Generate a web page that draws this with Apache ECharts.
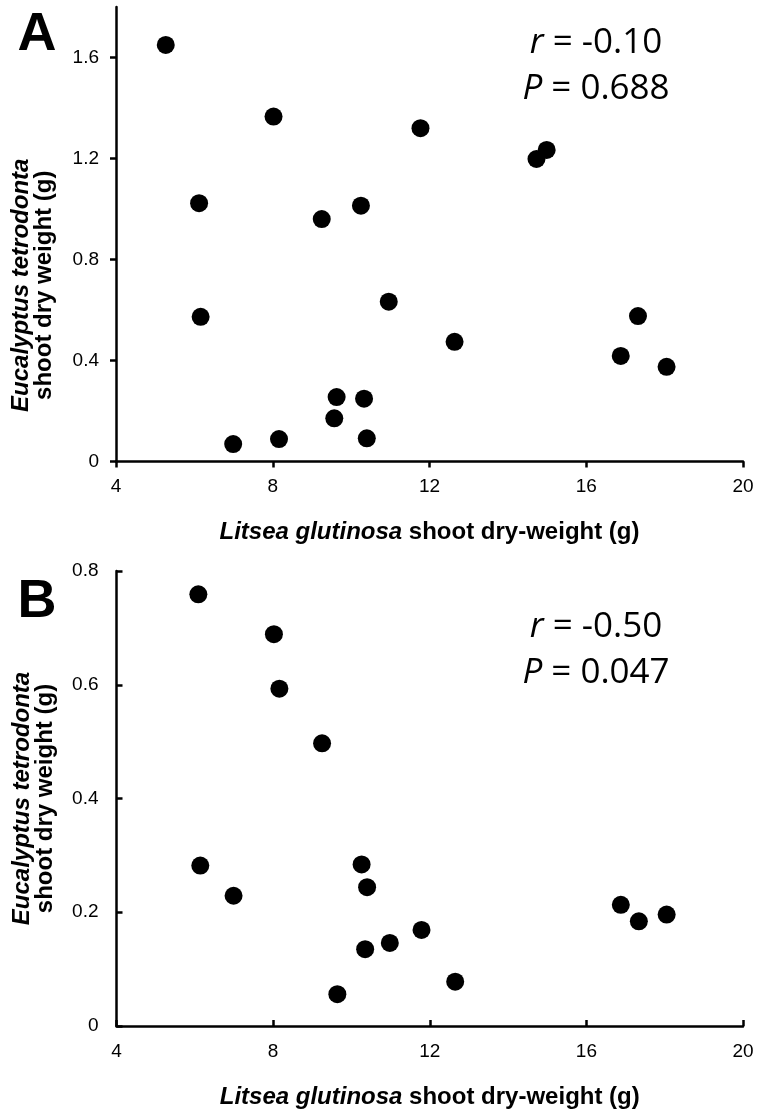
<!DOCTYPE html>
<html><head><meta charset="utf-8">
<script src="https://cdn.jsdelivr.net/npm/echarts@6/dist/echarts.min.js"></script>
<style>html,body{margin:0;padding:0;background:#fff}#c{width:761px;height:1117px}</style>
</head><body><div id="c"></div>
<script>
// Panel A data
const litseaA = [5.27, 6.12, 8.02, 11.77, 9.25, 10.25, 6.16, 10.96, 6.99, 8.16, 9.63, 10.33, 9.57, 10.40, 14.99, 14.73, 12.64, 17.32, 16.88, 18.05];
const eucA    = [1.650, 1.023, 1.366, 1.320, 0.960, 1.013, 0.573, 0.633, 0.069, 0.089, 0.255, 0.249, 0.171, 0.092, 1.234, 1.198, 0.474, 0.576, 0.418, 0.375];
// Panel B data
const litseaB = [6.09, 8.02, 8.16, 9.25, 6.14, 6.99, 10.26, 10.40, 16.88, 17.34, 18.05, 11.79, 10.98, 10.35, 9.64, 12.65];
const eucB    = [0.759, 0.689, 0.593, 0.497, 0.282, 0.229, 0.284, 0.244, 0.213, 0.184, 0.196, 0.169, 0.146, 0.135, 0.056, 0.078];
// Tick labels
const xTicks  = [4, 8, 12, 16, 20];
const yTicksA = [0, 0.4, 0.8, 1.2, 1.6];
const yTicksB = [0, 0.2, 0.4, 0.6, 0.8];
// Statistics text
const statsA = { r: '-0.10', P: '0.688' };
const statsB = { r: '-0.50', P: '0.047' };

const FONT = 'Liberation Sans, Arial, sans-serif';
const TITLE_SIZE = 24;
const pairs = (xs, ys) => xs.map((x, i) => [x, ys[i]]);

function xAxisCfg(gridIndex, inside) {
  return {
    type: 'value', gridIndex, min: 4, max: 20, interval: 4,
    axisLine: { show: true, lineStyle: { color: '#000', width: 2.5 } },
    axisTick: { show: true, inside, length: 6, lineStyle: { color: '#000', width: 2.5 }, customValues: xTicks },
    axisLabel: { color: '#000', fontSize: 19, fontFamily: FONT, margin: 16, customValues: xTicks },
    splitLine: { show: false },
    name: '{i|Litsea glutinosa }{b|shoot dry-weight (g)}',
    nameLocation: 'middle', nameGap: 59,
    nameTextStyle: {
      rich: {
        i: { fontStyle: 'italic', fontWeight: 'bold', fontSize: TITLE_SIZE, fontFamily: FONT, color: '#000' },
        b: { fontWeight: 'bold', fontSize: TITLE_SIZE, fontFamily: FONT, color: '#000' }
      }
    }
  };
}
function yAxisCfg(gridIndex, inside, max, interval, ticks, pad) {
  return {
    type: 'value', gridIndex, min: 0, max, interval,
    axisLine: { show: true, lineStyle: { color: '#000', width: 2.5 } },
    axisTick: { show: true, inside, length: 6, lineStyle: { color: '#000', width: 2.5 }, customValues: ticks },
    axisLabel: { color: '#000', fontSize: 19, fontFamily: FONT, margin: inside ? 18 : 17, customValues: ticks },
    splitLine: { show: false },
    name: '{i|Eucalyptus tetrodonta}\n{b|shoot dry weight (g)}',
    nameLocation: 'middle', nameGap: 60,
    nameTextStyle: {
      padding: pad,
      rich: {
        i: { fontStyle: 'italic', fontWeight: 'bold', fontSize: TITLE_SIZE, fontFamily: FONT, color: '#000', lineHeight: 23 },
        b: { fontWeight: 'bold', fontSize: TITLE_SIZE, fontFamily: FONT, color: '#000', lineHeight: 23 }
      }
    }
  };
}
function statText(x, y, s) {
  return {
    type: 'text', x, y,
    style: {
      text: '{i|r} = ' + s.r + '\n{i|P} = ' + s.P,
      fontSize: 35, fontFamily: 'Open Sans, sans-serif', fill: '#000',
      align: 'center', verticalAlign: 'top', lineHeight: 46,
      rich: { i: { fontStyle: 'italic', fontSize: 35, fontFamily: 'Open Sans, sans-serif', fill: '#000', lineHeight: 46 } }
    }
  };
}

const chart = echarts.init(document.getElementById('c'), null, { renderer: 'canvas' });
chart.setOption({
  backgroundColor: '#fff',
  animation: false,
  grid: [
    { left: 116, right: 18, top: 7, bottom: 1117 - 461.5 },
    { left: 116.5, right: 18, top: 571, bottom: 1117 - 1026 }
  ],
  xAxis: [xAxisCfg(0, false), xAxisCfg(1, true)],
  yAxis: [
    yAxisCfg(0, false, 1.8, 0.2, yTicksA, [0, 102, 0, 0]),
    yAxisCfg(1, true, 0.8, 0.2, yTicksB, 0)
  ],
  series: [
    { type: 'scatter', xAxisIndex: 0, yAxisIndex: 0, symbol: 'circle', symbolSize: 18, itemStyle: { color: '#000', opacity: 1 }, data: pairs(litseaA, eucA) },
    { type: 'scatter', xAxisIndex: 1, yAxisIndex: 1, symbol: 'circle', symbolSize: 18, itemStyle: { color: '#000', opacity: 1 }, data: pairs(litseaB, eucB) }
  ],
  graphic: [
    { type: 'text', x: 37, y: 8, style: { text: 'A', fontSize: 54, fontWeight: 'bold', fontFamily: FONT, fill: '#000', align: 'center', verticalAlign: 'top' } },
    { type: 'text', x: 37, y: 575, style: { text: 'B', fontSize: 54, fontWeight: 'bold', fontFamily: FONT, fill: '#000', align: 'center', verticalAlign: 'top' } },
    statText(596, 20, statsA),
    statText(596, 604, statsB)
  ]
});
</script></body></html>
